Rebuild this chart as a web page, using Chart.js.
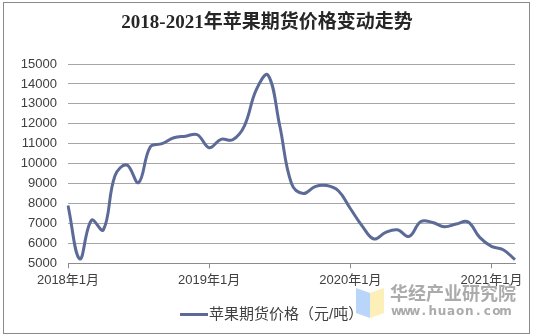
<!DOCTYPE html>
<html>
<head>
<meta charset="utf-8">
<title>2018-2021年苹果期货价格变动走势</title>
<script src="https://cdn.jsdelivr.net/npm/chart.js@4/dist/chart.umd.min.js"></script>
<style>
    html, body { margin: 0; padding: 0; background: #fff; }
    canvas { display: block; }
</style>
</head>
<body>
<canvas id="priceChart" width="534" height="336"></canvas>
<script>
//----------------data-------------
var chartTitle = '2018-2021年苹果期货价格变动走势';
var seriesName = '苹果期货价格（元/吨）';
var startYear = 2018;
var monthCount = 39; // 2018年1月 .. 2021年3月
// monthly price, yuan per ton
var applePrice = [
    7900, 5220, 7160, 6670, 9400, 9930, 9050, 10850, 11000, 11300, 11380, 11450,
    10800, 11220, 11200, 11900, 13700, 14450, 11900, 9000, 8500, 8850, 8900, 8630,
    7750, 6880, 6220, 6550, 6680, 6350, 7100, 7050, 6830, 6970, 7080, 6300,
    5850, 5680, 5180
];
var yTicks = [5000, 6000, 7000, 8000, 9000, 10000, 11000, 12000, 13000, 14000, 15000];
var watermarkName = '华经产业研究院';
var watermarkSite = 'www.huaon.com';

var lineColor = '#5b6a97';
var gridColor = '#a6a6a6';
var textColor = '#404040';
var cjkFont = '"Liberation Sans", "Noto Sans CJK SC", sans-serif';

function getMonthLabels() {
    var labels = [];
    for (var i = 0; i < monthCount; i++) {
        var y = startYear + Math.floor(i / 12);
        var m = (i % 12) + 1;
        labels.push(y + '年' + m + '月');
    }
    return labels;
}

//----------------decorations: border, title, legend, watermark-------------
var decorPlugin = {
    id: 'decor',
    afterDraw: function(chart) {
        var c = chart.ctx;
        c.save();
        // frame
        c.strokeStyle = '#8a8a8a';
        c.lineWidth = 1;
        c.strokeRect(3.5, 2.5, 526, 331);

        // title
        c.fillStyle = '#262626';
        c.font = 'bold 19px "Liberation Serif", "Noto Sans CJK SC", serif';
        c.textAlign = 'center';
        c.textBaseline = 'middle';
        c.fillText(chartTitle, 267, 23);

        // legend
        c.strokeStyle = lineColor;
        c.lineWidth = 3;
        c.beginPath();
        c.moveTo(180, 314.5);
        c.lineTo(208, 314.5);
        c.stroke();
        c.fillStyle = textColor;
        c.font = '15px ' + cjkFont;
        c.textAlign = 'left';
        c.fillText(seriesName, 209, 315);

        // watermark logo
        c.fillStyle = '#b9d5fa';
        c.beginPath();
        c.moveTo(356, 288); c.lineTo(370, 293); c.lineTo(370, 318); c.lineTo(356, 313);
        c.closePath(); c.fill();
        c.fillStyle = '#fcefb8';
        c.beginPath();
        c.moveTo(370, 293); c.lineTo(384, 288); c.lineTo(384, 313); c.lineTo(370, 318);
        c.closePath(); c.fill();

        c.fillStyle = '#ababab';
        c.font = 'bold 18px "Noto Sans CJK SC", sans-serif';
        c.textAlign = 'left';
        c.fillText(watermarkName, 390, 293);
        c.font = 'bold 12px "DejaVu Sans", sans-serif';
        c.textAlign = 'center';
        var step = 118 / watermarkSite.length;
        for (var i = 0; i < watermarkSite.length; i++) {
            c.fillText(watermarkSite[i], 392 + step * (i + 0.5), 311.5);
        }
        c.restore();
    }
};

function initChart() {
    var ctx = document.getElementById('priceChart');
    var labels = getMonthLabels();
    var chart = new Chart(ctx, {
        type: 'line',
        data: {
            labels: labels,
            datasets: [
                {
                    label: seriesName,
                    data: applePrice,
                    borderColor: lineColor,
                    backgroundColor: lineColor,
                    borderWidth: 3,
                    fill: false,
                    tension: 0.4,
                    pointRadius: 0,
                    pointHoverRadius: 0
                }
            ]
        },
        options: {
            responsive: false,
            animation: false,
            layout: {
                padding: { left: 0, right: 19, top: 64, bottom: 42.7 }
            },
            plugins: {
                legend: { display: false },
                title: { display: false },
                tooltip: { enabled: false }
            },
            scales: {
                x: {
                    type: 'category',
                    offset: false,
                    afterFit: function(scale) { scale.height = 30; },
                    grid: {
                        drawOnChartArea: false,
                        drawTicks: true,
                        tickLength: 5,
                        color: function(c) {
                            return (c.index % 12 === 0) ? '#8c8c8c' : 'rgba(0,0,0,0)';
                        }
                    },
                    border: { display: true, color: '#8c8c8c', width: 1 },
                    ticks: {
                        autoSkip: false,
                        maxRotation: 0,
                        minRotation: 0,
                        padding: 4,
                        color: textColor,
                        font: { family: cjkFont, size: 13 },
                        callback: function(val, index) {
                            return index % 12 === 0 ? this.getLabelForValue(val) : '';
                        }
                    }
                },
                y: {
                    min: yTicks[0],
                    max: yTicks[yTicks.length - 1],
                    afterFit: function(scale) { scale.width = 68; },
                    afterBuildTicks: function(scale) {
                        scale.ticks = yTicks.map(function(v) { return { value: v }; });
                    },
                    grid: {
                        color: gridColor,
                        lineWidth: 1,
                        drawTicks: false
                    },
                    border: { display: false },
                    ticks: {
                        padding: 11,
                        color: textColor,
                        font: { family: '"Liberation Sans", sans-serif', size: 13 },
                        callback: function(v) { return String(v); }
                    }
                }
            }
        },
        plugins: [decorPlugin]
    });
    return chart;
}

initChart();
</script>
</body>
</html>
